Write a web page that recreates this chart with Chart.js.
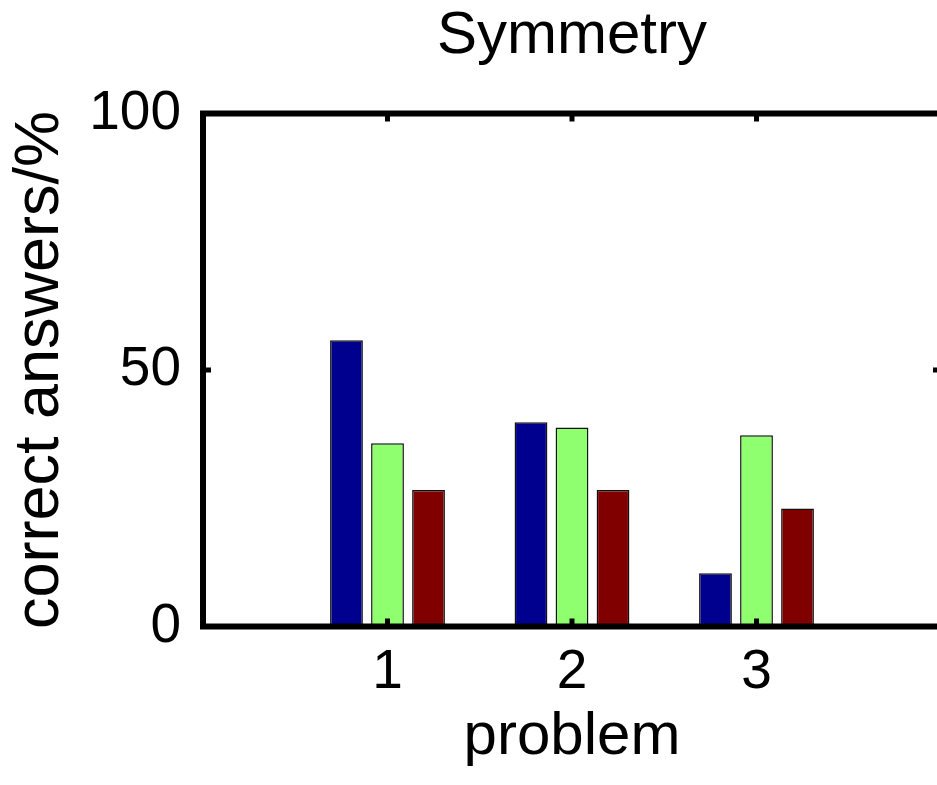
<!DOCTYPE html>
<html>
<head>
<meta charset="utf-8">
<script src="https://cdn.jsdelivr.net/npm/chart.js@4/dist/chart.umd.min.js"></script>
<style>
  html, body { margin: 0; padding: 0; overflow: hidden; background: #fff; }
  #wrap { position: relative; width: 960px; height: 785px; }
</style>
</head>
<body>
<div id="wrap"><canvas id="chart"></canvas></div>
<script>
  const problems = ['1', '2', '3'];
  const series1 = [55.8, 39.8, 10.4];
  const series2 = [35.7, 38.8, 37.3];
  const series3 = [26.6, 26.6, 23.0];
  const yTicks = [0, 50, 100];

  // pad the category axis so it runs 0..4 like the original
  const labels = ['', ...problems, ''];
  const pad = arr => [null, ...arr, null];

  const frame = {
    id: 'frame',
    afterDraw(chart) {
      const { ctx, chartArea: a, scales: { x, y } } = chart;
      ctx.save();
      ctx.strokeStyle = '#000';
      ctx.lineWidth = 5;
      yTicks.forEach(v => {
        const py = y.getPixelForValue(v);
        ctx.beginPath();
        ctx.moveTo(a.left, py); ctx.lineTo(a.left + 8, py);
        ctx.moveTo(a.right, py); ctx.lineTo(a.right - 8, py);
        ctx.stroke();
      });
      problems.forEach((p, i) => {
        const px = x.getPixelForValue(i + 1);
        ctx.beginPath();
        ctx.moveTo(px, a.top); ctx.lineTo(px, a.top + 8);
        ctx.moveTo(px, a.bottom); ctx.lineTo(px, a.bottom - 8);
        ctx.stroke();
      });
      ctx.lineWidth = 6;
      ctx.strokeRect(a.left, a.top, a.right - a.left, a.bottom - a.top);
      ctx.restore();
    }
  };

  const family = "'Liberation Sans', Arial, sans-serif";
  const tickFont = { family: family, size: 55 };
  const labelFont = { family: family, size: 60 };

  new Chart(document.getElementById('chart').getContext('2d'), {
    type: 'bar',
    data: {
      labels: labels,
      datasets: [
        { data: pad(series1), backgroundColor: '#00008f' },
        { data: pad(series2), backgroundColor: '#8fff70' },
        { data: pad(series3), backgroundColor: '#800000' }
      ].map(d => Object.assign(d, {
        borderColor: '#111',
        borderWidth: 1.5,
        categoryPercentage: 0.667,
        barPercentage: 0.8
      }))
    },
    options: {
      responsive: true,
      maintainAspectRatio: false,
      animation: false,
      layout: { padding: { top: 0, left: 0, right: 19, bottom: 0 } },
      plugins: {
        legend: { display: false },
        tooltip: { enabled: false },
        title: {
          display: true,
          text: 'Symmetry',
          color: '#000',
          fullSize: false,
          font: Object.assign({ weight: 'normal' }, labelFont),
          padding: { top: 0, bottom: 41.5 }
        }
      },
      scales: {
        x: {
          offset: false,
          grid: { display: false },
          border: { display: false },
          ticks: { color: '#000', font: tickFont, padding: 5, autoSkip: false, maxRotation: 0 },
          title: { display: true, text: 'problem', color: '#000', font: labelFont, padding: { top: 0, bottom: 12 } },
          afterFit: s => { s.height = 158.5; }
        },
        y: {
          min: 0,
          max: 100,
          grid: { display: false },
          border: { display: false },
          ticks: { color: '#000', font: tickFont, padding: 14, stepSize: 50 },
          title: { display: true, text: 'correct answers/%', color: '#000', font: { family: family, size: 63 }, padding: { top: 3, bottom: 0 } },
          afterFit: s => { s.width = 203; }
        }
      }
    },
    plugins: [frame]
  });
</script>
</body>
</html>
